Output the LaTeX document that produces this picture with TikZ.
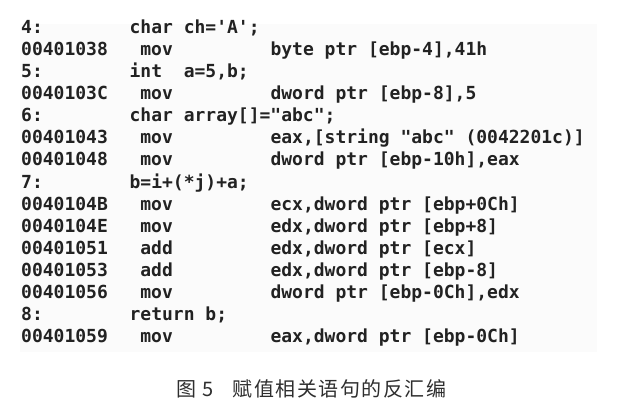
\documentclass[tikz,border=0pt]{standalone}
\usepackage{fontspec}
\newfontfamily\codefont{DejaVu Sans Mono}[Ligatures=TeXOff]
\newfontfamily\cjk{Noto Sans CJK SC}[LetterSpace=7.5]
\definecolor{codeink}{HTML}{222222}
\definecolor{capink}{HTML}{2E2E2E}
\definecolor{panelbg}{HTML}{FBFBFB}
\begin{document}
\begin{tikzpicture}[x=1pt, y=-1pt,
  codetext/.style={anchor=base west, inner sep=0pt, text=codeink, font=\codefont\bfseries\fontsize{18}{20}\selectfont},
  captext/.style={anchor=base west, inner sep=0pt, text=capink, font=\cjk\fontsize{20}{22}\selectfont}]
\useasboundingbox (0,0) rectangle (640,409);
\fill[panelbg] (20,24) rectangle (597,352);
\node[codetext] (l4) at (21,34) {4:};
\node[codetext] (s4) at (129.4,34) {char ch='A';};
\node[codetext] (a1038) at (21,56) {00401038};
\node[codetext] (m1038) at (140.2,56) {mov};
\node[codetext] (o1038) at (270.3,56) {byte ptr [ebp-4],41h};
\node[codetext] (l5) at (21,78) {5:};
\node[codetext] (s5) at (129.4,78) {int~~a=5,b;};
\node[codetext] (a103C) at (21,100) {0040103C};
\node[codetext] (m103C) at (140.2,100) {mov};
\node[codetext] (o103C) at (270.3,100) {dword ptr [ebp-8],5};
\node[codetext] (l6) at (21,122) {6:};
\node[codetext] (s6) at (129.4,122) {char array[]="abc";};
\node[codetext] (a1043) at (21,144) {00401043};
\node[codetext] (m1043) at (140.2,144) {mov};
\node[codetext] (o1043) at (270.3,144) {eax,[string "abc" (0042201c)]};
\node[codetext] (a1048) at (21,166) {00401048};
\node[codetext] (m1048) at (140.2,166) {mov};
\node[codetext] (o1048) at (270.3,166) {dword ptr [ebp-10h],eax};
\node[codetext] (l7) at (21,188) {7:};
\node[codetext] (s7) at (129.4,188) {b=i+(*j)+a;};
\node[codetext] (a104B) at (21,210) {0040104B};
\node[codetext] (m104B) at (140.2,210) {mov};
\node[codetext] (o104B) at (270.3,210) {ecx,dword ptr [ebp+0Ch]};
\node[codetext] (a104E) at (21,232) {0040104E};
\node[codetext] (m104E) at (140.2,232) {mov};
\node[codetext] (o104E) at (270.3,232) {edx,dword ptr [ebp+8]};
\node[codetext] (a1051) at (21,254) {00401051};
\node[codetext] (m1051) at (140.2,254) {add};
\node[codetext] (o1051) at (270.3,254) {edx,dword ptr [ecx]};
\node[codetext] (a1053) at (21,276) {00401053};
\node[codetext] (m1053) at (140.2,276) {add};
\node[codetext] (o1053) at (270.3,276) {edx,dword ptr [ebp-8]};
\node[codetext] (a1056) at (21,298) {00401056};
\node[codetext] (m1056) at (140.2,298) {mov};
\node[codetext] (o1056) at (270.3,298) {dword ptr [ebp-0Ch],edx};
\node[codetext] (l8) at (21,320) {8:};
\node[codetext] (s8) at (129.4,320) {return b;};
\node[codetext] (a1059) at (21,342) {00401059};
\node[codetext] (m1059) at (140.2,342) {mov};
\node[codetext] (o1059) at (270.3,342) {eax,dword ptr [ebp-0Ch]};
\node[captext] (fignum) at (176,396.5) {图 5};
\node[captext] (figtitle) at (232.5,396.5) {赋值相关语句的反汇编};
\end{tikzpicture}
\end{document}
